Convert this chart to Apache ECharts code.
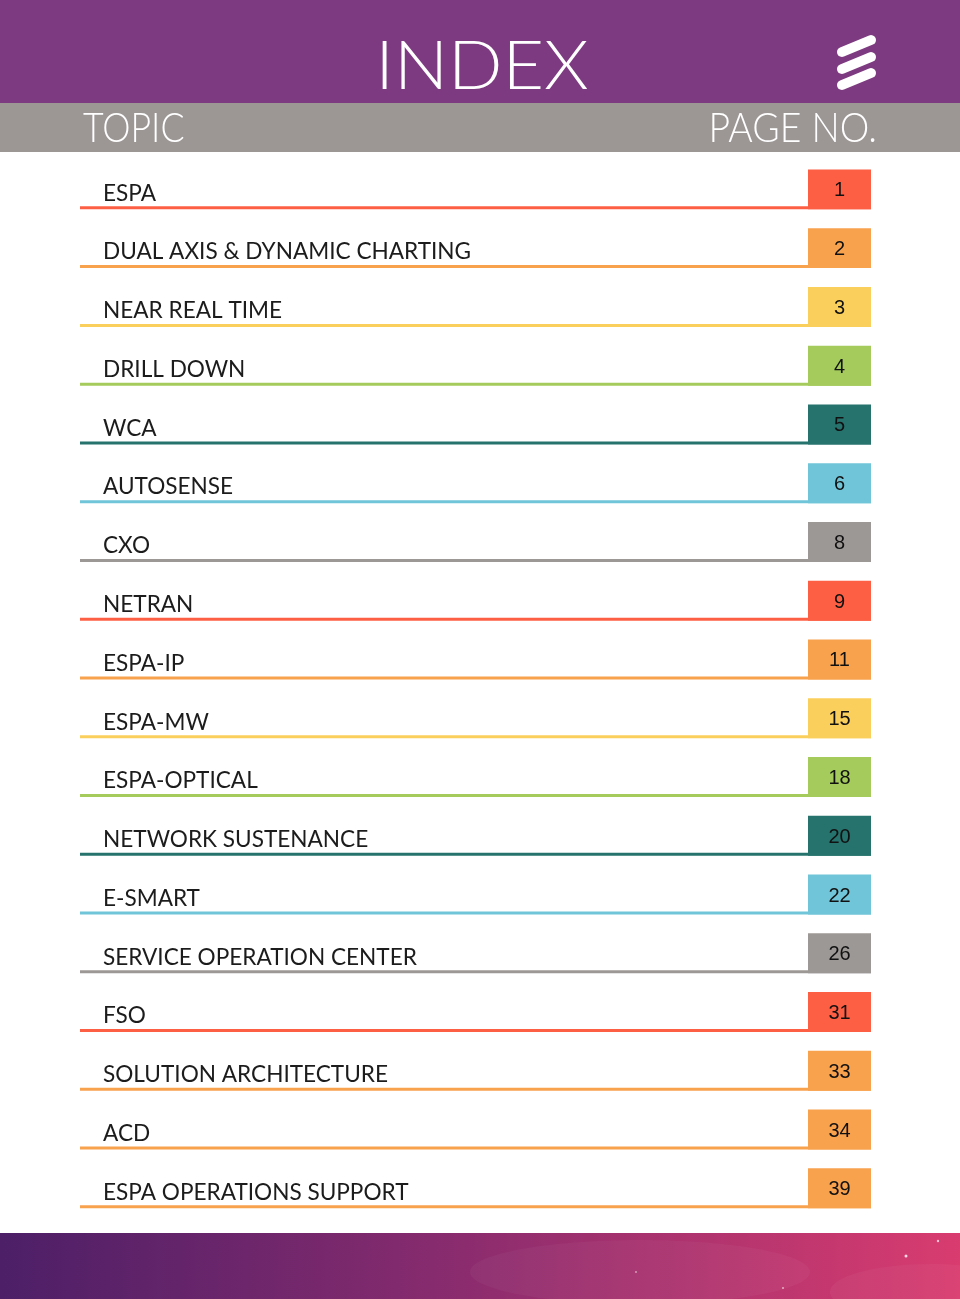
<!DOCTYPE html>
<html>
<head>
<meta charset="utf-8">
<title>Index</title>
<script src="https://cdn.jsdelivr.net/npm/echarts@6.0.0/dist/echarts.min.js"></script>
<style>
  html, body { margin: 0; padding: 0; background: #fff; }
  #chart { width: 960px; height: 1299px; }
</style>
</head>
<body>
<div id="chart"></div>
<script>
// topics and the page they start on
var topics = [
  'ESPA', 'DUAL AXIS & DYNAMIC CHARTING', 'NEAR REAL TIME', 'DRILL DOWN', 'WCA',
  'AUTOSENSE', 'CXO', 'NETRAN', 'ESPA-IP', 'ESPA-MW', 'ESPA-OPTICAL',
  'NETWORK SUSTENANCE', 'E-SMART', 'SERVICE OPERATION CENTER', 'FSO',
  'SOLUTION ARCHITECTURE', 'ACD', 'ESPA OPERATIONS SUPPORT'
]
var pageNumbers = [1, 2, 3, 4, 5, 6, 8, 9, 11, 15, 18, 20, 22, 26, 31, 33, 34, 39]

// colour of each row (line + box)
var RED = '#fd5f44', ORANGE = '#f9a24e', YELLOW = '#fbcf5b', GREEN = '#a4cb5b'
var TEAL = '#26736d', BLUE = '#70c5d8', GREY = '#9c9896'
var rowColors = [RED, ORANGE, YELLOW, GREEN, TEAL, BLUE, GREY,
                 RED, ORANGE, YELLOW, GREEN, TEAL, BLUE, GREY,
                 RED, ORANGE, ORANGE, ORANGE]

var chart = echarts.init(document.getElementById('chart'), null, { renderer: 'canvas' })

var seriesData = topics.map(function (t, i) {
  return [i, pageNumbers[i], t]
})

function renderRow(params, api) {
  var row = api.value(0)
  var page = api.value(1)
  var cs = params.coordSys
  var cy = api.coord([0, row])[1]
  var band = api.size([0, 1])[1]
  var boxH = band * 0.68
  var boxW = 63
  var left = cs.x
  var right = cs.x + cs.width
  var color = rowColors[params.dataIndex]
  var lineY = cy + boxH / 2 - 3
  return {
    type: 'group',
    children: [
      { type: 'rect', shape: { x: left, y: lineY, width: right - left, height: 3 }, style: { fill: color } },
      { type: 'rect', shape: { x: right - boxW, y: cy - boxH / 2, width: boxW, height: boxH }, style: { fill: color } },
      {
        type: 'text',
        style: {
          x: left + 23, y: cy + 4, text: topics[params.dataIndex],
          fill: '#1c1c1c', font: '22.6px Lato', textVerticalAlign: 'middle'
        }
      },
      {
        type: 'text',
        style: {
          x: right - boxW / 2, y: cy + 1.5, text: String(page),
          fill: '#111', font: '20px "Liberation Sans", Arial',
          textAlign: 'center', textVerticalAlign: 'middle'
        }
      }
    ]
  }
}

// Ericsson-like mark: three slanted rounded strokes
function logoBar(y) {
  return {
    type: 'polyline',
    shape: { points: [[842, y + 6], [871, y - 6]] },
    style: { stroke: '#fff', lineWidth: 10, lineCap: 'round', fill: null }
  }
}

var option = {
  animation: false,
  grid: { left: 80, right: 89, top: 160, bottom: 81.3 },
  xAxis: { type: 'value', min: 0, max: 1, show: false },
  yAxis: { type: 'category', data: topics, inverse: true, show: false },
  graphic: [
    { type: 'rect', shape: { x: 0, y: 0, width: 960, height: 103 }, style: { fill: '#7e3a81' } },
    { type: 'rect', shape: { x: 0, y: 103, width: 960, height: 49 }, style: { fill: '#9c9795' } },
    {
      type: 'text', x: 482, y: 67, scaleX: 1.07,
      style: { text: 'INDEX', fill: '#fff', font: '300 67px Lato', textAlign: 'center', textVerticalAlign: 'middle' }
    },
    logoBar(46), logoBar(63), logoBar(79),
    {
      type: 'text', x: 83, y: 128, scaleX: 0.85,
      style: { text: 'TOPIC', fill: '#fff', font: '300 42px Lato', textVerticalAlign: 'middle' }
    },
    {
      type: 'text', x: 877, y: 128, scaleX: 0.89,
      style: { text: 'PAGE NO.', fill: '#fff', font: '300 42px Lato', textAlign: 'right', textVerticalAlign: 'middle' }
    },
    {
      type: 'rect', shape: { x: 0, y: 1233, width: 960, height: 66 },
      style: {
        fill: new echarts.graphic.LinearGradient(0, 0, 1, 0.4, [
          { offset: 0, color: '#4c1f67' },
          { offset: 0.45, color: '#862b6e' },
          { offset: 1, color: '#d93c6f' }
        ])
      }
    },
    { type: 'ellipse', shape: { cx: 640, cy: 1272, rx: 170, ry: 32 }, style: { fill: 'rgba(255,255,255,0.035)' } },
    { type: 'ellipse', shape: { cx: 930, cy: 1292, rx: 100, ry: 28 }, style: { fill: 'rgba(255,255,255,0.04)' } },
    { type: 'circle', shape: { cx: 906, cy: 1256, r: 1.5 }, style: { fill: 'rgba(255,255,255,0.8)' } },
    { type: 'circle', shape: { cx: 938, cy: 1241, r: 1.2 }, style: { fill: 'rgba(255,255,255,0.7)' } },
    { type: 'circle', shape: { cx: 783, cy: 1288, r: 1 }, style: { fill: 'rgba(255,255,255,0.6)' } },
    { type: 'circle', shape: { cx: 636, cy: 1272, r: 1 }, style: { fill: 'rgba(255,255,255,0.5)' } }
  ],
  series: [{
    type: 'custom',
    renderItem: renderRow,
    encode: { x: 1, y: 0 },
    data: seriesData
  }]
}

chart.setOption(option)
</script>
</body>
</html>
